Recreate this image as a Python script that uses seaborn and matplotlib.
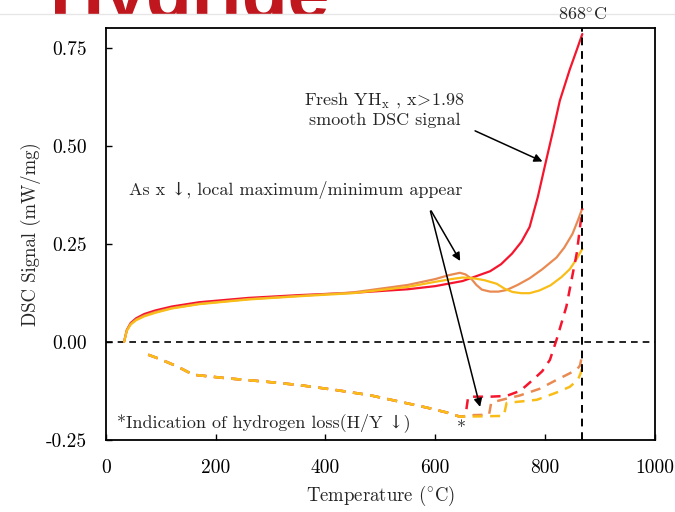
import matplotlib
matplotlib.use("Agg")
import matplotlib.pyplot as plt
from matplotlib.patches import Rectangle
from matplotlib.ticker import FormatStrFormatter
import seaborn as sns

# heating curves (solid)
red_x = [33, 38, 45, 55, 70, 90, 120, 170, 260, 350, 450, 550, 600, 650, 700, 720, 740, 757, 772, 787, 802, 815, 827, 845, 858, 868]
red_y = [0.0, 0.03, 0.048, 0.060, 0.071, 0.080, 0.090, 0.101, 0.112, 0.119, 0.125, 0.134, 0.142, 0.155, 0.180, 0.198, 0.225, 0.255, 0.293, 0.370, 0.462, 0.540, 0.615, 0.694, 0.745, 0.785]

orange_x = [33, 38, 45, 55, 70, 90, 120, 170, 260, 350, 450, 550, 600, 625, 645, 655, 665, 675, 685, 700, 715, 730, 750, 772, 795, 821, 835, 850, 860, 868]
orange_y = [0.0, 0.03, 0.046, 0.057, 0.067, 0.076, 0.086, 0.097, 0.109, 0.117, 0.126, 0.145, 0.160, 0.170, 0.176, 0.172, 0.162, 0.145, 0.133, 0.128, 0.128, 0.132, 0.145, 0.162, 0.185, 0.215, 0.240, 0.275, 0.310, 0.340]

yellow_x = [33, 38, 45, 55, 70, 90, 120, 170, 260, 350, 450, 550, 600, 630, 650, 670, 690, 712, 727, 741, 757, 772, 790, 810, 830, 845, 858, 868]
yellow_y = [0.0, 0.028, 0.044, 0.055, 0.065, 0.074, 0.085, 0.096, 0.108, 0.116, 0.124, 0.140, 0.153, 0.160, 0.164, 0.162, 0.157, 0.148, 0.135, 0.127, 0.124, 0.124, 0.131, 0.144, 0.165, 0.185, 0.212, 0.237]

# cooling curves (dashed)
red_c_x = [77, 100, 130, 159, 220, 293, 350, 414, 480, 536, 585, 620, 645, 655, 660, 700, 730, 755, 778, 795, 809, 821, 839, 858, 868]
red_c_y = [-0.033, -0.045, -0.063, -0.084, -0.093, -0.102, -0.110, -0.122, -0.136, -0.153, -0.168, -0.180, -0.191, -0.190, -0.140, -0.140, -0.138, -0.125, -0.097, -0.075, -0.046, 0.005, 0.09, 0.227, 0.340]

orange_c_x = [77, 100, 130, 159, 220, 293, 350, 414, 480, 536, 585, 620, 645, 670, 698, 702, 730, 754, 790, 820, 840, 858, 864, 868]
orange_c_y = [-0.033, -0.045, -0.063, -0.084, -0.093, -0.102, -0.110, -0.122, -0.136, -0.153, -0.168, -0.180, -0.191, -0.187, -0.186, -0.155, -0.145, -0.137, -0.120, -0.098, -0.084, -0.071, -0.060, -0.030]

yellow_c_x = [77, 100, 130, 159, 220, 293, 350, 414, 480, 536, 585, 620, 645, 690, 725, 730, 785, 820, 845, 860, 865, 868]
yellow_c_y = [-0.033, -0.045, -0.063, -0.084, -0.093, -0.102, -0.110, -0.122, -0.136, -0.153, -0.168, -0.180, -0.191, -0.190, -0.189, -0.156, -0.148, -0.130, -0.115, -0.097, -0.080, -0.060]

x_ticks = [0, 200, 400, 600, 800, 1000]
y_ticks = [-0.25, 0.0, 0.25, 0.50, 0.75]

RED = '#f5162e'
ORANGE = '#e98a52'
YELLOW = '#f9bd17'

sns.set_style("ticks")
plt.rcParams['font.family'] = ['cmr10', 'DejaVu Serif']
plt.rcParams['axes.unicode_minus'] = False
plt.rcParams['mathtext.fontset'] = 'cm'

fig = plt.figure(figsize=(6.75, 5.12), dpi=100)
ax = fig.add_axes([0.157, 0.141, 0.813, 0.804])
ax.set_zorder(5)

for xs, ys, c in [(red_x, red_y, RED), (orange_x, orange_y, ORANGE), (yellow_x, yellow_y, YELLOW)]:
    sns.lineplot(x=xs, y=ys, color=c, lw=1.6, estimator=None, sort=False, ax=ax)
for xs, ys, c in [(red_c_x, red_c_y, RED), (orange_c_x, orange_c_y, ORANGE), (yellow_c_x, yellow_c_y, YELLOW)]:
    sns.lineplot(x=xs, y=ys, color=c, lw=1.8, estimator=None, sort=False, ax=ax,
                 linestyle=(0, (4, 3)))

ax.axhline(0, color='black', lw=1.2, ls=(0, (4, 3)), zorder=1)
ax.axvline(868, color='black', lw=1.4, ls=(0, (4, 3)), zorder=5)

ax.set_xlim(0, 1000)
ax.set_ylim(-0.25, 0.80)
ax.set_xticks(x_ticks)
ax.set_yticks(y_ticks)
ax.yaxis.set_major_formatter(FormatStrFormatter('%.2f'))
ax.tick_params(direction='in', length=4, width=1, labelsize=14, pad=14, colors='black')
for s in ax.spines.values():
    s.set_linewidth(1.3)
    s.set_color('black')
ax.set_xlabel('Temperature (${}^{\\circ}$C)', fontsize=13.5, labelpad=5)
ax.set_ylabel('DSC Signal (mW/mg)', fontsize=13.5, labelpad=3)

ax.text(868, 0.812, '868${}^{\\circ}$C', ha='center', va='bottom', fontsize=13, clip_on=False)

ax.text(508, 0.593, 'Fresh YH$_{\\rm x}$ , x$\\!>\\!$1.98\nsmooth DSC signal', ha='center', va='center',
        fontsize=13, linespacing=1.2)
ax.annotate('', xy=(800, 0.457), xytext=(668, 0.541),
            arrowprops=dict(arrowstyle='-|>', color='black', lw=1.1, mutation_scale=12))

ax.text(346, 0.388, 'As x ↓, local maximum/minimum appear', ha='center', va='center', fontsize=13)
ax.annotate('', xy=(648, 0.200), xytext=(590, 0.340),
            arrowprops=dict(arrowstyle='-|>', color='black', lw=1.1, mutation_scale=12))
ax.annotate('', xy=(683, -0.173), xytext=(590, 0.340),
            arrowprops=dict(arrowstyle='-|>', color='black', lw=1.1, mutation_scale=12))

ax.text(20, -0.207, '*Indication of hydrogen loss(H/Y ↓)', ha='left', va='center', fontsize=13)
ax.text(647, -0.222, '*', ha='center', va='center', fontsize=13)

# slide title peeking above the chart image
fig.text(0.074, 1 - 19 / 512, 'Hydride', color='#c0161e', fontsize=54, fontweight='bold',
         family='Liberation Sans', ha='left', va='baseline', zorder=1)
fig.add_artist(Rectangle((0, 0), 1, 1 - 15 / 512, transform=fig.transFigure,
                         facecolor='white', edgecolor='none', zorder=2))
fig.add_artist(plt.Line2D([0, 1], [1 - 14 / 512] * 2, transform=fig.transFigure,
                          color='#e6e6e6', lw=1, zorder=3))

fig.savefig('out.png', dpi=100)
